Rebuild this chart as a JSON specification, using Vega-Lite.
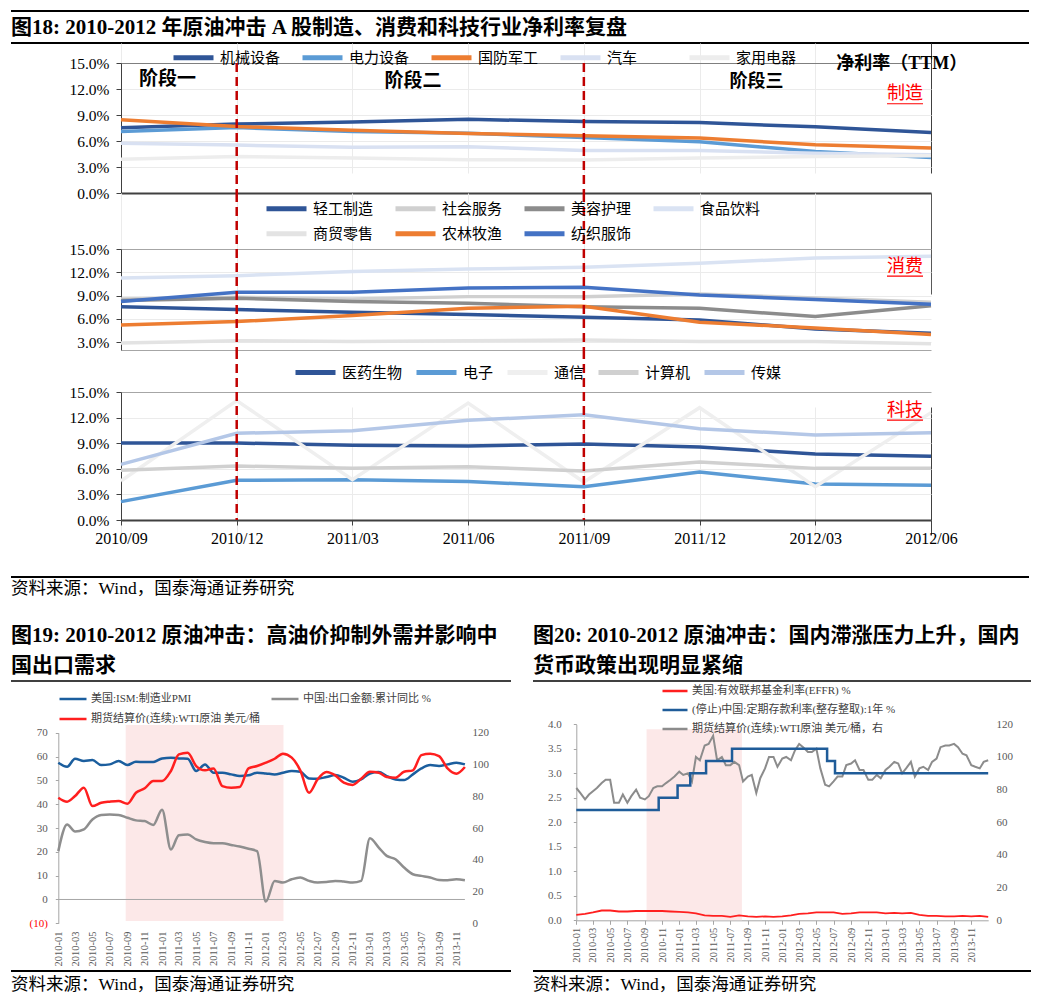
{
"$schema": "https://vega.github.io/schema/vega-lite/v6.json",
"padding": {"left": 10, "top": 10, "right": 10, "bottom": 0},
"spacing": 0,
"resolve": {"scale": {"color": "independent"}},
"config": {
  "view": {"stroke": null},
  "font": "'Liberation Serif','Noto Sans CJK SC'",
  "axis": {"labelFont": "'Liberation Serif','Noto Sans CJK SC'", "grid": false, "title": null, "labelOverlap": false},
  "legend": {"labelFont": "'Liberation Serif','Noto Sans CJK SC'", "labelLimit": 500},
  "title": {"font": "'Liberation Serif','Noto Sans CJK SC'", "color": "#000", "anchor": "start", "frame": "group"}
},
"datasets": {
  "mfg": [
    {"q":"2010/09","机械设备":7.52,"电力设备":7.1,"国防军工":8.45,"汽车":5.75,"家用电器":3.9},
    {"q":"2010/12","机械设备":7.95,"电力设备":7.55,"国防军工":7.67,"汽车":5.53,"家用电器":4.2},
    {"q":"2011/03","机械设备":8.2,"电力设备":7.1,"国防军工":7.25,"汽车":5.27,"家用电器":4.05},
    {"q":"2011/06","机械设备":8.5,"电力设备":6.9,"国防军工":6.87,"汽车":5.34,"家用电器":3.85},
    {"q":"2011/09","机械设备":8.24,"电力设备":6.4,"国防军工":6.6,"汽车":4.9,"家用电器":3.8},
    {"q":"2011/12","机械设备":8.13,"电力设备":5.9,"国防军工":6.34,"汽车":4.9,"家用电器":4.05},
    {"q":"2012/03","机械设备":7.63,"电力设备":4.8,"国防军工":5.57,"汽车":4.6,"家用电器":4.2},
    {"q":"2012/06","机械设备":6.98,"电力设备":4.1,"国防军工":5.2,"汽车":4.4,"家用电器":4.3}
  ],
  "con": [
    {"q":"2010/09","轻工制造":7.58,"社会服务":8.57,"美容护理":8.36,"食品饮料":11.27,"商贸零售":2.91,"农林牧渔":5.23,"纺织服饰":8.23},
    {"q":"2010/12","轻工制造":7.2,"社会服务":8.78,"美容护理":8.66,"食品饮料":11.57,"商贸零售":3.2,"农林牧渔":5.66,"纺织服饰":9.43},
    {"q":"2011/03","轻工制造":6.86,"社会服务":8.57,"美容护理":8.23,"食品饮料":12.09,"商贸零售":3.09,"农林牧渔":6.43,"纺织服饰":9.43},
    {"q":"2011/06","轻工制造":6.56,"社会服务":8.87,"美容护理":8.01,"食品饮料":12.43,"商贸零售":3.2,"农林牧渔":7.37,"纺织服饰":9.99},
    {"q":"2011/09","轻工制造":6.21,"社会服务":8.87,"美容护理":7.58,"食品饮料":12.64,"商贸零售":3.3,"农林牧渔":7.63,"纺织服饰":10.07},
    {"q":"2011/12","轻工制造":5.87,"社会服务":9.2,"美容护理":7.37,"食品饮料":13.16,"商贸零售":3.1,"农林牧渔":5.57,"纺织服饰":9.09},
    {"q":"2012/03","轻工制造":4.71,"社会服务":8.7,"美容护理":6.3,"食品饮料":13.84,"商贸零售":3.1,"农林牧渔":4.84,"纺织服饰":8.49},
    {"q":"2012/06","轻工制造":4.16,"社会服务":8.14,"美容护理":7.71,"食品饮料":14.06,"商贸零售":2.8,"农林牧渔":3.98,"纺织服饰":7.89}
  ],
  "tech": [
    {"q":"2010/09","医药生物":9.02,"电子":2.15,"通信":4.57,"计算机":5.82,"传媒":6.52},
    {"q":"2010/12","医药生物":9.02,"电子":4.65,"通信":14.0,"计算机":6.33,"传媒":10.16},
    {"q":"2011/03","医药生物":8.75,"电子":4.73,"通信":4.73,"计算机":6.05,"传媒":10.47},
    {"q":"2011/06","医药生物":8.67,"电子":4.5,"通信":13.7,"计算机":6.25,"传媒":11.68},
    {"q":"2011/09","医药生物":8.9,"电子":3.9,"通信":4.45,"计算机":5.74,"传媒":12.34},
    {"q":"2011/12","医药生物":8.55,"电子":5.63,"通信":13.16,"计算机":6.8,"传媒":10.7},
    {"q":"2012/03","医药生物":7.73,"电子":4.22,"通信":3.9,"计算机":6.05,"传媒":9.96},
    {"q":"2012/06","医药生物":7.46,"电子":4.06,"通信":12.58,"计算机":6.05,"传媒":10.23}
  ],
  "c19": [
    {"date":"2010/01/01","pmi":57.4,"exp":20.3,"wti":79.1},
    {"date":"2010/02/01","pmi":55.7,"exp":31.5,"wti":76.6},
    {"date":"2010/03/01","pmi":59.1,"exp":28.5,"wti":80.1},
    {"date":"2010/04/01","pmi":58.1,"exp":29.4,"wti":85.4},
    {"date":"2010/05/01","pmi":58.5,"exp":33.6,"wti":73.8},
    {"date":"2010/06/01","pmi":56.4,"exp":35.5,"wti":75.9},
    {"date":"2010/07/01","pmi":56.7,"exp":35.7,"wti":76.6},
    {"date":"2010/08/01","pmi":58.1,"exp":35.5,"wti":77.0},
    {"date":"2010/09/01","pmi":56.4,"exp":34.3,"wti":75.3},
    {"date":"2010/10/01","pmi":57.8,"exp":33.2,"wti":82.2},
    {"date":"2010/11/01","pmi":57.7,"exp":32.9,"wti":85.0},
    {"date":"2010/12/01","pmi":57.7,"exp":31.3,"wti":89.6},
    {"date":"2011/01/01","pmi":59.2,"exp":37.7,"wti":89.6},
    {"date":"2011/02/01","pmi":59.5,"exp":21.0,"wti":95.9},
    {"date":"2011/03/01","pmi":59.2,"exp":27.0,"wti":106.4},
    {"date":"2011/04/01","pmi":59.1,"exp":27.3,"wti":107.4},
    {"date":"2011/05/01","pmi":53.9,"exp":25.2,"wti":99.0},
    {"date":"2011/06/01","pmi":56.7,"exp":24.1,"wti":96.3},
    {"date":"2011/07/01","pmi":53.2,"exp":23.6,"wti":97.5},
    {"date":"2011/08/01","pmi":53.2,"exp":23.6,"wti":86.4},
    {"date":"2011/09/01","pmi":52.5,"exp":22.9,"wti":85.4},
    {"date":"2011/10/01","pmi":51.8,"exp":22.2,"wti":85.8},
    {"date":"2011/11/01","pmi":52.1,"exp":21.3,"wti":97.5},
    {"date":"2011/12/01","pmi":53.2,"exp":20.3,"wti":99.0},
    {"date":"2012/01/01","pmi":52.9,"exp":-0.9,"wti":101.1},
    {"date":"2012/02/01","pmi":52.5,"exp":7.8,"wti":103.6},
    {"date":"2012/03/01","pmi":53.2,"exp":7.1,"wti":106.8},
    {"date":"2012/04/01","pmi":53.9,"exp":8.5,"wti":104.3},
    {"date":"2012/05/01","pmi":53.6,"exp":9.2,"wti":96.3},
    {"date":"2012/06/01","pmi":50.8,"exp":7.8,"wti":82.2},
    {"date":"2012/07/01","pmi":50.7,"exp":7.1,"wti":90.6},
    {"date":"2012/08/01","pmi":51.4,"exp":7.3,"wti":95.2},
    {"date":"2012/09/01","pmi":52.2,"exp":7.8,"wti":93.1},
    {"date":"2012/10/01","pmi":51.1,"exp":7.5,"wti":88.5},
    {"date":"2012/11/01","pmi":49.4,"exp":7.1,"wti":87.1},
    {"date":"2012/12/01","pmi":50.4,"exp":7.8,"wti":91.0},
    {"date":"2013/01/01","pmi":52.9,"exp":25.7,"wti":95.4},
    {"date":"2013/02/01","pmi":53.5,"exp":21.8,"wti":94.8},
    {"date":"2013/03/01","pmi":51.8,"exp":18.3,"wti":92.1},
    {"date":"2013/04/01","pmi":50.4,"exp":16.9,"wti":91.7},
    {"date":"2013/05/01","pmi":50.1,"exp":13.4,"wti":95.4},
    {"date":"2013/06/01","pmi":52.5,"exp":10.6,"wti":96.3},
    {"date":"2013/07/01","pmi":55.0,"exp":9.9,"wti":105.9},
    {"date":"2013/08/01","pmi":56.4,"exp":9.2,"wti":106.8},
    {"date":"2013/09/01","pmi":56.0,"exp":8.2,"wti":105.3},
    {"date":"2013/10/01","pmi":56.7,"exp":8.1,"wti":97.5},
    {"date":"2013/11/01","pmi":57.4,"exp":8.5,"wti":94.2},
    {"date":"2013/12/01","pmi":56.7,"exp":8.1,"wti":98.4}
  ],
  "c20w": [
    {"date":"2010/01/01","s":"wti","v":81},{"date":"2010/01/15","s":"wti","v":78},{"date":"2010/02/01","s":"wti","v":74},{"date":"2010/02/15","s":"wti","v":77},
    {"date":"2010/03/01","s":"wti","v":79},{"date":"2010/03/15","s":"wti","v":81},{"date":"2010/04/01","s":"wti","v":84},{"date":"2010/04/15","s":"wti","v":86},
    {"date":"2010/05/01","s":"wti","v":86},{"date":"2010/05/15","s":"wti","v":72},{"date":"2010/06/01","s":"wti","v":72},{"date":"2010/06/15","s":"wti","v":77},
    {"date":"2010/07/01","s":"wti","v":72},{"date":"2010/07/15","s":"wti","v":76},{"date":"2010/08/01","s":"wti","v":80},{"date":"2010/08/15","s":"wti","v":75},
    {"date":"2010/09/01","s":"wti","v":74},{"date":"2010/09/15","s":"wti","v":76},{"date":"2010/10/01","s":"wti","v":81},{"date":"2010/10/15","s":"wti","v":82},
    {"date":"2010/11/01","s":"wti","v":82},{"date":"2010/11/15","s":"wti","v":84},{"date":"2010/12/01","s":"wti","v":86},{"date":"2010/12/15","s":"wti","v":88},
    {"date":"2011/01/01","s":"wti","v":91},{"date":"2011/01/15","s":"wti","v":89},{"date":"2011/02/01","s":"wti","v":90},{"date":"2011/02/15","s":"wti","v":85},
    {"date":"2011/03/01","s":"wti","v":100},{"date":"2011/03/15","s":"wti","v":98},{"date":"2011/04/01","s":"wti","v":107},{"date":"2011/04/15","s":"wti","v":108},
    {"date":"2011/05/01","s":"wti","v":113},{"date":"2011/05/15","s":"wti","v":98},{"date":"2011/06/01","s":"wti","v":100},{"date":"2011/06/15","s":"wti","v":95},
    {"date":"2011/07/01","s":"wti","v":95},{"date":"2011/07/15","s":"wti","v":97},{"date":"2011/08/01","s":"wti","v":95},{"date":"2011/08/15","s":"wti","v":85},
    {"date":"2011/09/01","s":"wti","v":88},{"date":"2011/09/15","s":"wti","v":89},{"date":"2011/10/01","s":"wti","v":78},{"date":"2011/10/15","s":"wti","v":87},
    {"date":"2011/11/01","s":"wti","v":93},{"date":"2011/11/15","s":"wti","v":100},{"date":"2011/12/01","s":"wti","v":100},{"date":"2011/12/15","s":"wti","v":94},
    {"date":"2012/01/01","s":"wti","v":99},{"date":"2012/01/15","s":"wti","v":100},{"date":"2012/02/01","s":"wti","v":98},{"date":"2012/02/15","s":"wti","v":104},
    {"date":"2012/03/01","s":"wti","v":108},{"date":"2012/03/15","s":"wti","v":106},{"date":"2012/04/01","s":"wti","v":103},{"date":"2012/04/15","s":"wti","v":103},
    {"date":"2012/05/01","s":"wti","v":105},{"date":"2012/05/15","s":"wti","v":93},{"date":"2012/06/01","s":"wti","v":83},{"date":"2012/06/15","s":"wti","v":82},
    {"date":"2012/07/01","s":"wti","v":85},{"date":"2012/07/15","s":"wti","v":88},{"date":"2012/08/01","s":"wti","v":88},{"date":"2012/08/15","s":"wti","v":95},
    {"date":"2012/09/01","s":"wti","v":96},{"date":"2012/09/15","s":"wti","v":98},{"date":"2012/10/01","s":"wti","v":92},{"date":"2012/10/15","s":"wti","v":92},
    {"date":"2012/11/01","s":"wti","v":86},{"date":"2012/11/15","s":"wti","v":86},{"date":"2012/12/01","s":"wti","v":89},{"date":"2012/12/15","s":"wti","v":87},
    {"date":"2013/01/01","s":"wti","v":92},{"date":"2013/01/15","s":"wti","v":94},{"date":"2013/02/01","s":"wti","v":97},{"date":"2013/02/15","s":"wti","v":96},
    {"date":"2013/03/01","s":"wti","v":90},{"date":"2013/03/15","s":"wti","v":93},{"date":"2013/04/01","s":"wti","v":97},{"date":"2013/04/15","s":"wti","v":88},
    {"date":"2013/05/01","s":"wti","v":93},{"date":"2013/05/15","s":"wti","v":94},{"date":"2013/06/01","s":"wti","v":92},{"date":"2013/06/15","s":"wti","v":97},
    {"date":"2013/07/01","s":"wti","v":99},{"date":"2013/07/15","s":"wti","v":106},{"date":"2013/08/01","s":"wti","v":107},{"date":"2013/08/15","s":"wti","v":107},
    {"date":"2013/09/01","s":"wti","v":108},{"date":"2013/09/15","s":"wti","v":106},{"date":"2013/10/01","s":"wti","v":102},{"date":"2013/10/15","s":"wti","v":101},
    {"date":"2013/11/01","s":"wti","v":95},{"date":"2013/11/15","s":"wti","v":94},{"date":"2013/12/01","s":"wti","v":93},{"date":"2013/12/15","s":"wti","v":97},
    {"date":"2013/12/31","s":"wti","v":98}
  ],
  "c20e": [
    {"date":"2010/01/01","s":"effr","v":0.11},{"date":"2010/02/01","s":"effr","v":0.13},{"date":"2010/03/01","s":"effr","v":0.16},{"date":"2010/04/01","s":"effr","v":0.20},
    {"date":"2010/05/01","s":"effr","v":0.20},{"date":"2010/06/01","s":"effr","v":0.18},{"date":"2010/07/01","s":"effr","v":0.18},{"date":"2010/08/01","s":"effr","v":0.19},
    {"date":"2010/09/01","s":"effr","v":0.19},{"date":"2010/10/01","s":"effr","v":0.19},{"date":"2010/11/01","s":"effr","v":0.19},{"date":"2010/12/01","s":"effr","v":0.18},
    {"date":"2011/01/01","s":"effr","v":0.17},{"date":"2011/02/01","s":"effr","v":0.16},{"date":"2011/03/01","s":"effr","v":0.14},{"date":"2011/04/01","s":"effr","v":0.10},
    {"date":"2011/05/01","s":"effr","v":0.09},{"date":"2011/06/01","s":"effr","v":0.09},{"date":"2011/07/01","s":"effr","v":0.07},{"date":"2011/08/01","s":"effr","v":0.10},
    {"date":"2011/09/01","s":"effr","v":0.08},{"date":"2011/10/01","s":"effr","v":0.07},{"date":"2011/11/01","s":"effr","v":0.08},{"date":"2011/12/01","s":"effr","v":0.07},
    {"date":"2012/01/01","s":"effr","v":0.08},{"date":"2012/02/01","s":"effr","v":0.10},{"date":"2012/03/01","s":"effr","v":0.13},{"date":"2012/04/01","s":"effr","v":0.14},
    {"date":"2012/05/01","s":"effr","v":0.16},{"date":"2012/06/01","s":"effr","v":0.16},{"date":"2012/07/01","s":"effr","v":0.16},{"date":"2012/08/01","s":"effr","v":0.13},
    {"date":"2012/09/01","s":"effr","v":0.14},{"date":"2012/10/01","s":"effr","v":0.16},{"date":"2012/11/01","s":"effr","v":0.16},{"date":"2012/12/01","s":"effr","v":0.16},
    {"date":"2013/01/01","s":"effr","v":0.14},{"date":"2013/02/01","s":"effr","v":0.15},{"date":"2013/03/01","s":"effr","v":0.14},{"date":"2013/04/01","s":"effr","v":0.15},
    {"date":"2013/05/01","s":"effr","v":0.11},{"date":"2013/06/01","s":"effr","v":0.09},{"date":"2013/07/01","s":"effr","v":0.09},{"date":"2013/08/01","s":"effr","v":0.08},
    {"date":"2013/09/01","s":"effr","v":0.08},{"date":"2013/10/01","s":"effr","v":0.09},{"date":"2013/11/01","s":"effr","v":0.08},{"date":"2013/12/01","s":"effr","v":0.09},
    {"date":"2013/12/31","s":"effr","v":0.07}
  ],
  "c20d": [
    {"date":"2010/01/01","s":"dep","v":2.25},{"date":"2010/10/20","s":"dep","v":2.5},{"date":"2010/12/26","s":"dep","v":2.75},
    {"date":"2011/02/09","s":"dep","v":3.0},{"date":"2011/04/06","s":"dep","v":3.25},{"date":"2011/07/07","s":"dep","v":3.5},
    {"date":"2012/06/08","s":"dep","v":3.25},{"date":"2012/07/06","s":"dep","v":3.0},{"date":"2013/12/31","s":"dep","v":3.0}
  ]
},
"vconcat": [
{
  "spacing": 0, "bounds": "flush",
  "resolve": {"scale": {"color": "independent"}},
  "vconcat": [
    {
      "width": 1018, "height": 32,
      "data": {"values": [{"edge": "top"}, {"edge": "bottom"}]},
      "mark": {"type": "rule", "strokeWidth": 2, "color": "#000"},
      "encoding": {"y": {"field": "edge", "type": "nominal", "scale": {"type": "point", "domain": ["top", "bottom"], "range": [0, 32], "padding": 0}, "axis": null}},
      "title": {"text": "图18: 2010-2012 年原油冲击 A 股制造、消费和科技行业净利率复盘", "orient": "top", "offset": -28, "fontSize": 21, "fontWeight": "bold"}
    },
    {
      "width": 1018, "height": 150,
      "layer": [
        {
          "data": {"name": "mfg"},
          "transform": [{"fold": ["机械设备", "电力设备", "国防军工", "汽车", "家用电器"], "as": ["s", "v"]}],
          "mark": {"type": "line", "strokeWidth": 3.5},
          "encoding": {
            "x": {"field": "q", "type": "ordinal",
              "scale": {"type": "point", "domain": ["2010/09","2010/12","2011/03","2011/06","2011/09","2011/12","2012/03","2012/06"], "range": [110, 920], "padding": 0},
              "axis": {"orient": "bottom", "grid": true, "gridColor": {"condition": {"test": "datum.value == '2012/06'", "value": "#404040"}, "value": "#EBEBEB"}, "labels": false, "ticks": false, "domain": true, "domainColor": "#404040", "domainWidth": 2, "title": null}},
            "y": {"field": "v", "type": "quantitative", "scale": {"domain": [0, 15], "range": [150, 20], "nice": false, "zero": false},
              "axis": {"orient": "left", "offset": -110, "values": [0, 3, 6, 9, 12, 15], "tickCount": 20, "labelExpr": "format(datum.value, '.1f') + '%'", "labelOverlap": false, "grid": true, "gridColor": {"condition": {"test": "datum.value == 15", "value": "#7F7F7F"}, "value": "#EBEBEB"}, "domainColor": "#404040", "tickColor": "#404040", "tickSize": 5, "labelPadding": 7, "labelFontSize": 15.5, "labelColor": "#000", "title": null}},
            "color": {"field": "s", "type": "nominal",
              "scale": {"domain": ["机械设备", "电力设备", "国防军工", "汽车", "家用电器"], "range": ["#2F5597", "#5B9BD5", "#ED7D31", "#D9E1F2", "#EDEDED"]},
              "legend": {"orient": "none", "legendX": 160, "legendY": -8, "direction": "horizontal", "columns": 5, "gridAlign": "all", "columnPadding": 11, "symbolType": "stroke", "symbolSize": 1600, "symbolStrokeWidth": 5, "labelFont": "'Noto Sans CJK SC'", "labelFontSize": 15, "labelColor": "#000", "labelOffset": 4, "title": null}}
          }
        },
        {
          "data": {"values": [{"q": "2010/12"}, {"q": "2011/09"}]},
          "mark": {"type": "rule", "color": "#C00000", "strokeWidth": 2.5, "strokeDash": [9, 5]},
          "encoding": {"x": {"field": "q", "type": "ordinal"}, "y": {"datum": 15, "type": "quantitative"}, "y2": {"datum": 0}}
        },
        {
          "data": {"values": [{}]},
          "mark": {"type": "text", "text": "阶段一", "align": "left", "baseline": "middle", "dx": 18, "font": "'Noto Sans CJK SC'", "fontSize": 19, "fontWeight": "bold", "color": "#000"},
          "encoding": {"x": {"datum": "2010/09", "type": "ordinal"}, "y": {"datum": 13.1, "type": "quantitative"}}
        },
        {
          "data": {"values": [{}]},
          "mark": {"type": "text", "text": "阶段二", "align": "left", "baseline": "middle", "dx": 32, "font": "'Noto Sans CJK SC'", "fontSize": 19, "fontWeight": "bold", "color": "#000"},
          "encoding": {"x": {"datum": "2011/03", "type": "ordinal"}, "y": {"datum": 12.92, "type": "quantitative"}}
        },
        {
          "data": {"values": [{}]},
          "mark": {"type": "text", "text": "阶段三", "align": "left", "baseline": "middle", "dx": 30, "font": "'Noto Sans CJK SC'", "fontSize": 18, "fontWeight": "bold", "color": "#000"},
          "encoding": {"x": {"datum": "2011/12", "type": "ordinal"}, "y": {"datum": 12.8, "type": "quantitative"}}
        },
        {
          "data": {"values": [{}]},
          "mark": {"type": "text", "text": "净利率（TTM）", "align": "left", "baseline": "middle", "dx": 21, "font": "'Liberation Serif','Noto Sans CJK SC'", "fontSize": 18, "fontWeight": "bold", "color": "#000"},
          "encoding": {"x": {"datum": "2012/03", "type": "ordinal"}, "y": {"datum": 14.88, "type": "quantitative"}}
        },
        {
          "data": {"values": [{}]},
          "mark": {"type": "text", "text": "制造", "align": "right", "baseline": "middle", "dx": -8, "font": "'Noto Sans CJK SC'", "fontSize": 18, "color": "#FF0000"},
          "encoding": {"x": {"datum": "2012/06", "type": "ordinal"}, "y": {"datum": 11.37, "type": "quantitative"}}
        },
        {
          "data": {"values": [{}]},
          "mark": {"type": "tick", "orient": "horizontal", "size": 36, "thickness": 1.2, "xOffset": -26, "color": "#FF0000", "opacity": 1},
          "encoding": {"x": {"datum": "2012/06", "type": "ordinal"}, "y": {"datum": 10.3, "type": "quantitative"}}
        }
      ]
    },
    {
      "width": 1018, "height": 157,
      "resolve": {"scale": {"color": "independent"}},
      "layer": [
        {
          "data": {"name": "con"},
          "transform": [{"fold": ["轻工制造", "社会服务", "美容护理", "食品饮料"], "as": ["s", "v"]}],
          "mark": {"type": "line", "strokeWidth": 3.5},
          "encoding": {
            "x": {"field": "q", "type": "ordinal",
              "scale": {"type": "point", "domain": ["2010/09","2010/12","2011/03","2011/06","2011/09","2011/12","2012/03","2012/06"], "range": [110, 920], "padding": 0},
              "axis": {"orient": "bottom", "grid": true, "gridColor": {"condition": {"test": "datum.value == '2012/06'", "value": "#595959"}, "value": "#EBEBEB"}, "labels": false, "ticks": false, "domain": true, "domainColor": "#A6A6A6", "domainWidth": 1, "title": null}},
            "y": {"field": "v", "type": "quantitative", "scale": {"domain": [2, 15], "range": [157, 56], "nice": false, "zero": false},
              "axis": {"orient": "left", "offset": -110, "values": [3, 6, 9, 12, 15], "tickCount": 20, "labelExpr": "format(datum.value, '.1f') + '%'", "labelOverlap": false, "grid": true, "gridColor": {"condition": {"test": "datum.value == 15", "value": "#A6A6A6"}, "value": "#EBEBEB"}, "domainColor": "#404040", "tickColor": "#404040", "tickSize": 5, "labelPadding": 7, "labelFontSize": 15.5, "labelColor": "#000", "title": null}},
            "color": {"field": "s", "type": "nominal",
              "scale": {"domain": ["轻工制造", "社会服务", "美容护理", "食品饮料"], "range": ["#2F5597", "#D0D0D0", "#8C8C8C", "#DAE3F3"]},
              "legend": {"orient": "none", "legendX": 253, "legendY": -7, "direction": "horizontal", "columns": 4, "gridAlign": "all", "columnPadding": 11, "symbolType": "stroke", "symbolSize": 1600, "symbolStrokeWidth": 5, "labelFont": "'Noto Sans CJK SC'", "labelFontSize": 15, "labelColor": "#000", "labelOffset": 4, "title": null}}
          }
        },
        {
          "data": {"name": "con"},
          "transform": [{"fold": ["商贸零售", "农林牧渔", "纺织服饰"], "as": ["s", "v"]}],
          "mark": {"type": "line", "strokeWidth": 3.5},
          "encoding": {
            "x": {"field": "q", "type": "ordinal"},
            "y": {"field": "v", "type": "quantitative"},
            "color": {"field": "s", "type": "nominal",
              "scale": {"domain": ["商贸零售", "农林牧渔", "纺织服饰"], "range": ["#E3E3E3", "#ED7D31", "#4472C4"]},
              "legend": {"orient": "none", "legendX": 253, "legendY": 18, "direction": "horizontal", "columns": 3, "gridAlign": "all", "columnPadding": 11, "symbolType": "stroke", "symbolSize": 1600, "symbolStrokeWidth": 5, "labelFont": "'Noto Sans CJK SC'", "labelFontSize": 15, "labelColor": "#000", "labelOffset": 4, "title": null}}
          }
        },
        {
          "data": {"values": [{"q": "2010/12"}, {"q": "2011/09"}]},
          "mark": {"type": "rule", "color": "#C00000", "strokeWidth": 2.5, "strokeDash": [9, 5]},
          "encoding": {"x": {"field": "q", "type": "ordinal"}}
        },
        {
          "data": {"values": [{}]},
          "mark": {"type": "text", "text": "消费", "align": "right", "baseline": "middle", "dx": -8, "font": "'Noto Sans CJK SC'", "fontSize": 18, "color": "#FF0000"},
          "encoding": {"x": {"datum": "2012/06", "type": "ordinal"}, "y": {"datum": 12.68, "type": "quantitative"}}
        },
        {
          "data": {"values": [{}]},
          "mark": {"type": "tick", "orient": "horizontal", "size": 36, "thickness": 1.2, "xOffset": -26, "color": "#FF0000", "opacity": 1},
          "encoding": {"x": {"datum": "2012/06", "type": "ordinal"}, "y": {"datum": 11.5, "type": "quantitative"}}
        }
      ]
    },
    {
      "width": 1018, "height": 227,
      "layer": [
        {
          "data": {"name": "tech"},
          "transform": [{"fold": ["医药生物", "电子", "通信", "计算机", "传媒"], "as": ["s", "v"]}],
          "mark": {"type": "line", "strokeWidth": 3.5},
          "encoding": {
            "x": {"field": "q", "type": "ordinal",
              "scale": {"type": "point", "domain": ["2010/09","2010/12","2011/03","2011/06","2011/09","2011/12","2012/03","2012/06"], "range": [110, 920], "padding": 0},
              "axis": {"orient": "bottom", "offset": -57, "grid": true, "gridColor": {"condition": {"test": "datum.value == '2012/06'", "value": "#404040"}, "value": "#EBEBEB"}, "labels": true, "labelAngle": 0, "labelFontSize": 16, "labelColor": "#000", "labelPadding": 5, "ticks": true, "tickSize": 5, "tickColor": "#404040", "domain": true, "domainColor": "#404040", "domainWidth": 2, "title": null}},
            "y": {"field": "v", "type": "quantitative", "scale": {"domain": [0, 15], "range": [170, 42], "nice": false, "zero": false},
              "axis": {"orient": "left", "offset": -110, "values": [0, 3, 6, 9, 12, 15], "tickCount": 20, "labelExpr": "format(datum.value, '.1f') + '%'", "labelOverlap": false, "grid": true, "gridColor": {"condition": {"test": "datum.value == 15", "value": "#A6A6A6"}, "value": "#EBEBEB"}, "domainColor": "#404040", "tickColor": "#404040", "tickSize": 5, "labelPadding": 7, "labelFontSize": 15.5, "labelColor": "#000", "title": null}},
            "color": {"field": "s", "type": "nominal",
              "scale": {"domain": ["医药生物", "电子", "通信", "计算机", "传媒"], "range": ["#2F5597", "#5B9BD5", "#EFEFEF", "#D0D0D0", "#B4C7E7"]},
              "legend": {"orient": "none", "legendX": 282, "legendY": 0, "direction": "horizontal", "columns": 5, "gridAlign": "none", "columnPadding": 3, "symbolType": "stroke", "symbolSize": 1600, "symbolStrokeWidth": 5, "labelFont": "'Noto Sans CJK SC'", "labelFontSize": 15, "labelColor": "#000", "labelOffset": 4, "title": null}}
          }
        },
        {
          "data": {"values": [{"q": "2010/12"}, {"q": "2011/09"}]},
          "mark": {"type": "rule", "color": "#C00000", "strokeWidth": 2.5, "strokeDash": [9, 5]},
          "encoding": {"x": {"field": "q", "type": "ordinal"}, "y": {"datum": 19.92, "type": "quantitative"}, "y2": {"datum": 0}}
        },
        {
          "data": {"values": [{}]},
          "mark": {"type": "text", "text": "科技", "align": "right", "baseline": "middle", "dx": -8, "font": "'Noto Sans CJK SC'", "fontSize": 18, "color": "#FF0000"},
          "encoding": {"x": {"datum": "2012/06", "type": "ordinal"}, "y": {"datum": 12.77, "type": "quantitative"}}
        },
        {
          "data": {"values": [{}]},
          "mark": {"type": "tick", "orient": "horizontal", "size": 36, "thickness": 1.2, "xOffset": -26, "color": "#FF0000", "opacity": 1},
          "encoding": {"x": {"datum": "2012/06", "type": "ordinal"}, "y": {"datum": 11.7, "type": "quantitative"}}
        }
      ]
    },
    {
      "width": 1018, "height": 44,
      "data": {"values": [{"edge": "top"}]},
      "mark": {"type": "rule", "strokeWidth": 2, "color": "#000"},
      "encoding": {"y": {"field": "edge", "type": "nominal", "scale": {"type": "point", "domain": ["top", "bottom"], "range": [0, 44], "padding": 0}, "axis": null}},
      "title": {"text": "资料来源：Wind，国泰海通证券研究", "orient": "top", "offset": -21, "fontSize": 17.5, "fontWeight": "normal"}
    }
  ]
},
{
  "spacing": 20,
  "resolve": {"scale": {"color": "independent"}},
  "hconcat": [
    {
      "spacing": 0, "bounds": "flush",
      "resolve": {"scale": {"color": "independent"}},
      "vconcat": [
        {
          "width": 500, "height": 60,
          "data": {"values": [{"edge": "bottom"}]},
          "mark": {"type": "rule", "strokeWidth": 1.5, "color": "#000"},
          "encoding": {"y": {"field": "edge", "type": "nominal", "scale": {"type": "point", "domain": ["top", "bottom"], "range": [0, 60], "padding": 0}, "axis": null}},
          "title": {"text": ["图19: 2010-2012 原油冲击：高油价抑制外需并影响中", "国出口需求"], "orient": "top", "offset": -55, "fontSize": 21, "fontWeight": "bold", "lineHeight": 30}
        },
        {
          "width": 500, "height": 290,
          "layer": [
            {
              "data": {"values": [{"start": "2010/08/26", "end": "2012/03/03"}]},
              "mark": {"type": "rect", "color": "#FCE8E8"},
              "encoding": {
                "x": {"field": "start", "type": "temporal",
                  "scale": {"domain": [{"year": 2010, "month": 1, "date": 1}, {"year": 2013, "month": 12, "date": 1}], "range": [47.3, 453.9]},
                  "axis": {"orient": "bottom", "offset": -44, "format": "%Y-%m", "tickCount": {"interval": "month", "step": 2}, "labelAngle": -90, "labelOverlap": false, "domain": false, "ticks": false, "labelPadding": 4, "labelFontSize": 10.5, "labelColor": "#595959", "title": null}},
                "x2": {"field": "end"},
                "y": {"datum": 73.2, "type": "quantitative", "scale": {"domain": [-10, 70], "range": [242.3, 51.7], "nice": false, "zero": false},
                  "axis": {"orient": "left", "offset": -47.3, "values": [-10, 0, 10, 20, 30, 40, 50, 60, 70], "tickCount": 20, "labelExpr": "datum.value < 0 ? '(' + (-datum.value) + ')' : datum.label", "labelColor": {"condition": {"test": "datum.value < 0", "value": "#FF0000"}, "value": "#595959"}, "labelFontSize": 11, "domainColor": "#A6A6A6", "tickColor": "#A6A6A6", "tickSize": 3, "labelPadding": 8, "title": null}},
                "y2": {"datum": -9.0}
              }
            },
            {
              "data": {"values": [{}]},
              "mark": {"type": "rule", "color": "#A6A6A6", "strokeWidth": 1},
              "encoding": {
                "x": {"datum": {"year": 2010, "month": 1, "date": 1}, "type": "temporal"},
                "x2": {"datum": {"year": 2013, "month": 12, "date": 1}},
                "y": {"datum": 0, "type": "quantitative", "scale": {"domain": [-10, 70], "range": [242.3, 51.7], "nice": false, "zero": false}, "axis": null}
              }
            },
            {
              "data": {"name": "c19"},
              "transform": [{"fold": ["pmi", "exp"], "as": ["s", "v"]}],
              "mark": {"type": "line", "strokeWidth": 2.5, "interpolate": "monotone"},
              "encoding": {
                "x": {"field": "date", "type": "temporal"},
                "y": {"field": "v", "type": "quantitative", "scale": {"domain": [-10, 70], "range": [242.3, 51.7], "nice": false, "zero": false}, "axis": null},
                "color": {"field": "s", "type": "nominal",
                  "scale": {"domain": ["pmi", "exp", "wti"], "range": ["#1B5E9E", "#8E8E8E", "#FF1F1F"]},
                  "legend": {"orient": "none", "legendX": 47, "legendY": 3, "direction": "horizontal", "columns": 2, "columnPadding": 6, "rowPadding": -4, "symbolType": "stroke", "symbolSize": 729, "symbolStrokeWidth": 2.5, "labelFontSize": 11, "labelColor": "#404040", "labelOffset": 3, "title": null,
                    "labelExpr": "datum.label == 'pmi' ? '美国:ISM:制造业PMI' : datum.label == 'exp' ? '中国:出口金额:累计同比 %' : '期货结算价(连续):WTI原油 美元/桶'"}}
              }
            },
            {
              "data": {"name": "c19"},
              "transform": [{"fold": ["wti"], "as": ["s", "v"]}],
              "mark": {"type": "line", "strokeWidth": 2.5, "interpolate": "monotone"},
              "encoding": {
                "x": {"field": "date", "type": "temporal"},
                "y": {"field": "v", "type": "quantitative", "scale": {"domain": [0, 120], "range": [242.3, 51.7], "nice": false, "zero": false},
                  "axis": {"orient": "right", "offset": -43, "values": [0, 20, 40, 60, 80, 100, 120], "tickCount": 20, "domain": false, "ticks": false, "labelPadding": 4, "labelFontSize": 11, "labelColor": "#595959", "title": null}},
                "color": {"field": "s", "type": "nominal",
                  "scale": {"domain": ["pmi", "exp", "wti"], "range": ["#1B5E9E", "#8E8E8E", "#FF1F1F"]}}
              }
            }
          ],
          "resolve": {"scale": {"y": "independent"}}
        },
        {
          "width": 500, "height": 26,
          "data": {"values": [{"edge": "top"}]},
          "mark": {"type": "rule", "strokeWidth": 2, "color": "#000"},
          "encoding": {"y": {"field": "edge", "type": "nominal", "scale": {"type": "point", "domain": ["top", "bottom"], "range": [0, 26], "padding": 0}, "axis": null}},
          "title": {"text": "资料来源：Wind，国泰海通证券研究", "orient": "top", "offset": -23, "fontSize": 17.5, "fontWeight": "normal"}
        }
      ]
    },
    {
      "spacing": 0, "bounds": "flush",
      "resolve": {"scale": {"color": "independent"}},
      "vconcat": [
        {
          "width": 498, "height": 60,
          "data": {"values": [{"edge": "bottom"}]},
          "mark": {"type": "rule", "strokeWidth": 1.5, "color": "#000"},
          "encoding": {"y": {"field": "edge", "type": "nominal", "scale": {"type": "point", "domain": ["top", "bottom"], "range": [0, 60], "padding": 0}, "axis": null}},
          "title": {"text": ["图20: 2010-2012 原油冲击：国内滞涨压力上升，国内", "货币政策出现明显紧缩"], "orient": "top", "offset": -55, "fontSize": 21, "fontWeight": "bold", "lineHeight": 30}
        },
        {
          "width": 498, "height": 290,
          "layer": [
            {
              "data": {"values": [{"start": "2010/09/07", "end": "2011/08/11"}]},
              "mark": {"type": "rect", "color": "#FCE8E8"},
              "encoding": {
                "x": {"field": "start", "type": "temporal",
                  "scale": {"domain": [{"year": 2010, "month": 1, "date": 1}, {"year": 2013, "month": 12, "date": 31}], "range": [43.3, 455.2]},
                  "axis": {"orient": "bottom", "offset": -50.7, "format": "%Y-%m", "tickCount": {"interval": "month", "step": 2}, "labelAngle": -90, "labelOverlap": false, "domain": true, "domainColor": "#A6A6A6", "ticks": true, "tickSize": 4, "tickColor": "#A6A6A6", "labelPadding": 3, "labelFontSize": 10.5, "labelColor": "#595959", "title": null}},
                "x2": {"field": "end"},
                "y": {"datum": 3.9, "type": "quantitative", "scale": {"domain": [0, 4], "range": [239.3, 43.3], "nice": false, "zero": false},
                  "axis": {"orient": "left", "offset": -43.3, "values": [0, 0.5, 1, 1.5, 2, 2.5, 3, 3.5, 4], "tickCount": 20, "format": ".1f", "domainColor": "#A6A6A6", "tickColor": "#A6A6A6", "tickSize": 3, "labelPadding": 12, "labelFontSize": 11, "labelColor": "#595959", "title": null}},
                "y2": {"datum": 0}
              }
            },
            {
              "data": {"name": "c20w"},
              "mark": {"type": "line", "strokeWidth": 2},
              "encoding": {
                "x": {"field": "date", "type": "temporal"},
                "y": {"field": "v", "type": "quantitative", "scale": {"domain": [0, 120], "range": [239.3, 43.3], "nice": false, "zero": false},
                  "axis": {"orient": "right", "offset": -40, "values": [0, 20, 40, 60, 80, 100, 120], "tickCount": 20, "domain": false, "ticks": false, "labelPadding": 5, "labelFontSize": 11, "labelColor": "#595959", "title": null}},
                "color": {"field": "s", "type": "nominal",
                  "scale": {"domain": ["effr", "dep", "wti"], "range": ["#FF1F1F", "#1F5C99", "#8C8C8C"]},
                  "legend": {"orient": "none", "legendX": 128, "legendY": -4, "direction": "vertical", "columns": 1, "rowPadding": 0, "symbolType": "stroke", "symbolSize": 625, "symbolStrokeWidth": 2.5, "labelFontSize": 11, "labelColor": "#404040", "labelOffset": 3, "title": null,
                    "labelExpr": "datum.label == 'effr' ? '美国:有效联邦基金利率(EFFR) %' : datum.label == 'dep' ? '(停止)中国:定期存款利率(整存整取):1年 %' : '期货结算价(连续):WTI原油 美元/桶，右'"}}
              }
            },
            {
              "data": {"name": "c20e"},
              "mark": {"type": "line", "strokeWidth": 1.8},
              "encoding": {
                "x": {"field": "date", "type": "temporal"},
                "y": {"field": "v", "type": "quantitative", "scale": {"domain": [0, 4], "range": [239.3, 43.3], "nice": false, "zero": false}, "axis": null},
                "color": {"field": "s", "type": "nominal", "scale": {"domain": ["effr", "dep", "wti"], "range": ["#FF1F1F", "#1F5C99", "#8C8C8C"]}}
              }
            },
            {
              "data": {"name": "c20d"},
              "mark": {"type": "line", "strokeWidth": 2.5, "interpolate": "step-after"},
              "encoding": {
                "x": {"field": "date", "type": "temporal"},
                "y": {"field": "v", "type": "quantitative", "scale": {"domain": [0, 4], "range": [239.3, 43.3], "nice": false, "zero": false}, "axis": null},
                "color": {"field": "s", "type": "nominal", "scale": {"domain": ["effr", "dep", "wti"], "range": ["#FF1F1F", "#1F5C99", "#8C8C8C"]}}
              }
            }
          ],
          "resolve": {"scale": {"y": "independent"}}
        },
        {
          "width": 498, "height": 26,
          "data": {"values": [{"edge": "top"}]},
          "mark": {"type": "rule", "strokeWidth": 2, "color": "#000"},
          "encoding": {"y": {"field": "edge", "type": "nominal", "scale": {"type": "point", "domain": ["top", "bottom"], "range": [0, 26], "padding": 0}, "axis": null}},
          "title": {"text": "资料来源：Wind，国泰海通证券研究", "orient": "top", "offset": -23, "fontSize": 17.5, "fontWeight": "normal"}
        }
      ]
    }
  ]
}
]
}
